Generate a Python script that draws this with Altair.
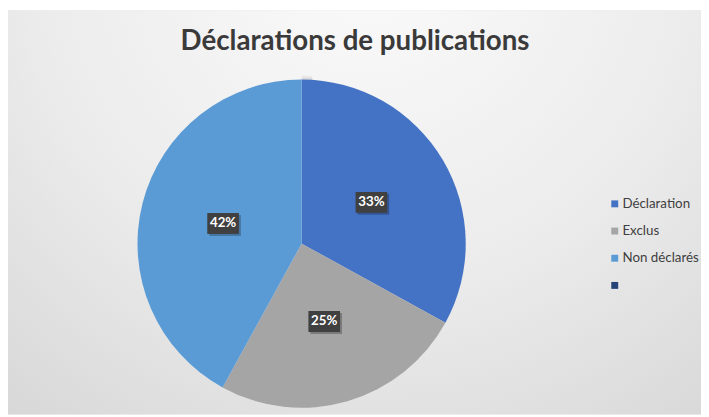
import altair as alt
import pandas as pd

categories = ["Déclaration", "Exclus", "Non déclarés", " "]
values = [33, 25, 42, 0]
colors = ["#4472C4", "#A5A5A5", "#5B9BD5", "#264478"]
title_text = "Déclarations de publications"

W, H = 701, 409
CX, CY = 297, 236
R = 166
LR = 82

df = pd.DataFrame({"cat": categories, "val": values, "ord": list(range(len(categories)))})
one = pd.DataFrame({"a": [1]})

color_scale = alt.Scale(domain=categories, range=colors)

bg = alt.Chart(one).mark_rect(
    color=alt.Gradient(
        gradient="radial",
        stops=[alt.GradientStop(color="#fbfbfb", offset=0),
               alt.GradientStop(color="#ececec", offset=0.5),
               alt.GradientStop(color="#d2d2d2", offset=1)],
        x1=0.52, y1=0.12, r1=0, x2=0.52, y2=0.12, r2=0.95,
    )
).encode(x=alt.value(0), x2=alt.value(W), y=alt.value(0), y2=alt.value(H))

halo = alt.Chart(one).mark_arc(outerRadius=R + 6, color="#000000", opacity=0.05).encode(
    theta=alt.Theta("a:Q"), x=alt.value(CX), y=alt.value(CY + 2)
)
halo2 = alt.Chart(one).mark_arc(outerRadius=R + 3, color="#000000", opacity=0.06).encode(
    theta=alt.Theta("a:Q"), x=alt.value(CX), y=alt.value(CY + 1)
)

pie = alt.Chart(df).mark_arc(outerRadius=R, strokeWidth=0).encode(
    theta=alt.Theta("val:Q", stack=True),
    color=alt.Color("cat:N", scale=color_scale, sort=categories,
                    legend=alt.Legend(orient="none", legendX=607, legendY=189, title=None,
                                      symbolType="square", symbolSize=49, symbolStrokeWidth=0,
                                      labelFont="Lato", labelFontSize=13.5, labelColor="#404040",
                                      labelOffset=1, rowPadding=12.5, padding=0)),
    order=alt.Order("ord:Q"),
    x=alt.value(CX), y=alt.value(CY),
)

lab = alt.Chart(df).transform_filter("datum.val > 0").transform_joinaggregate(
    total="sum(val)"
).transform_window(
    cum="sum(val)", sort=[alt.SortField("ord")], frame=[None, 0]
).transform_calculate(
    mid="(datum.cum - datum.val/2)/datum.total*2*PI",
    px=f"{CX} + {LR}*sin(datum.mid)",
    py=f"{CY} - {LR}*cos(datum.mid)",
    sx=f"{CX} + {LR}*sin(datum.mid) + 2",
    sy=f"{CY} - {LR}*cos(datum.mid) + 2",
    txt="datum.val + '%'",
)

box_shape = "M-1,-0.66L1,-0.66L1,0.66L-1,0.66Z"
shadow = lab.mark_point(shape=box_shape, size=1024, filled=True, color="#000000", opacity=0.25, strokeWidth=0).encode(
    x=alt.X("sx:Q", scale=None, axis=None), y=alt.Y("sy:Q", scale=None, axis=None)
)
box = lab.mark_point(shape=box_shape, size=1024, filled=True, color="#404040", opacity=1, strokeWidth=0).encode(
    x=alt.X("px:Q", scale=None, axis=None), y=alt.Y("py:Q", scale=None, axis=None)
)
txt = lab.mark_text(font="Lato", fontWeight="bold", fontSize=13.5, color="white").encode(
    x=alt.X("px:Q", scale=None, axis=None), y=alt.Y("py:Q", scale=None, axis=None), text="txt:N"
)

title = alt.Chart(pd.DataFrame({"t": [title_text]})).mark_text(
    font="Lato", fontWeight="bold", fontSize=28, color="#3a3a3a"
).encode(x=alt.value(351), y=alt.value(32), text="t:N")

chart = alt.layer(bg, halo, halo2, pie, shadow, box, txt, title).properties(
    width=W, height=H, autosize=alt.AutoSizeParams(type="none"), padding=0, background="white"
).configure_view(stroke=None)

chart.save("out.html", embed_options={"renderer": "svg", "actions": False})
